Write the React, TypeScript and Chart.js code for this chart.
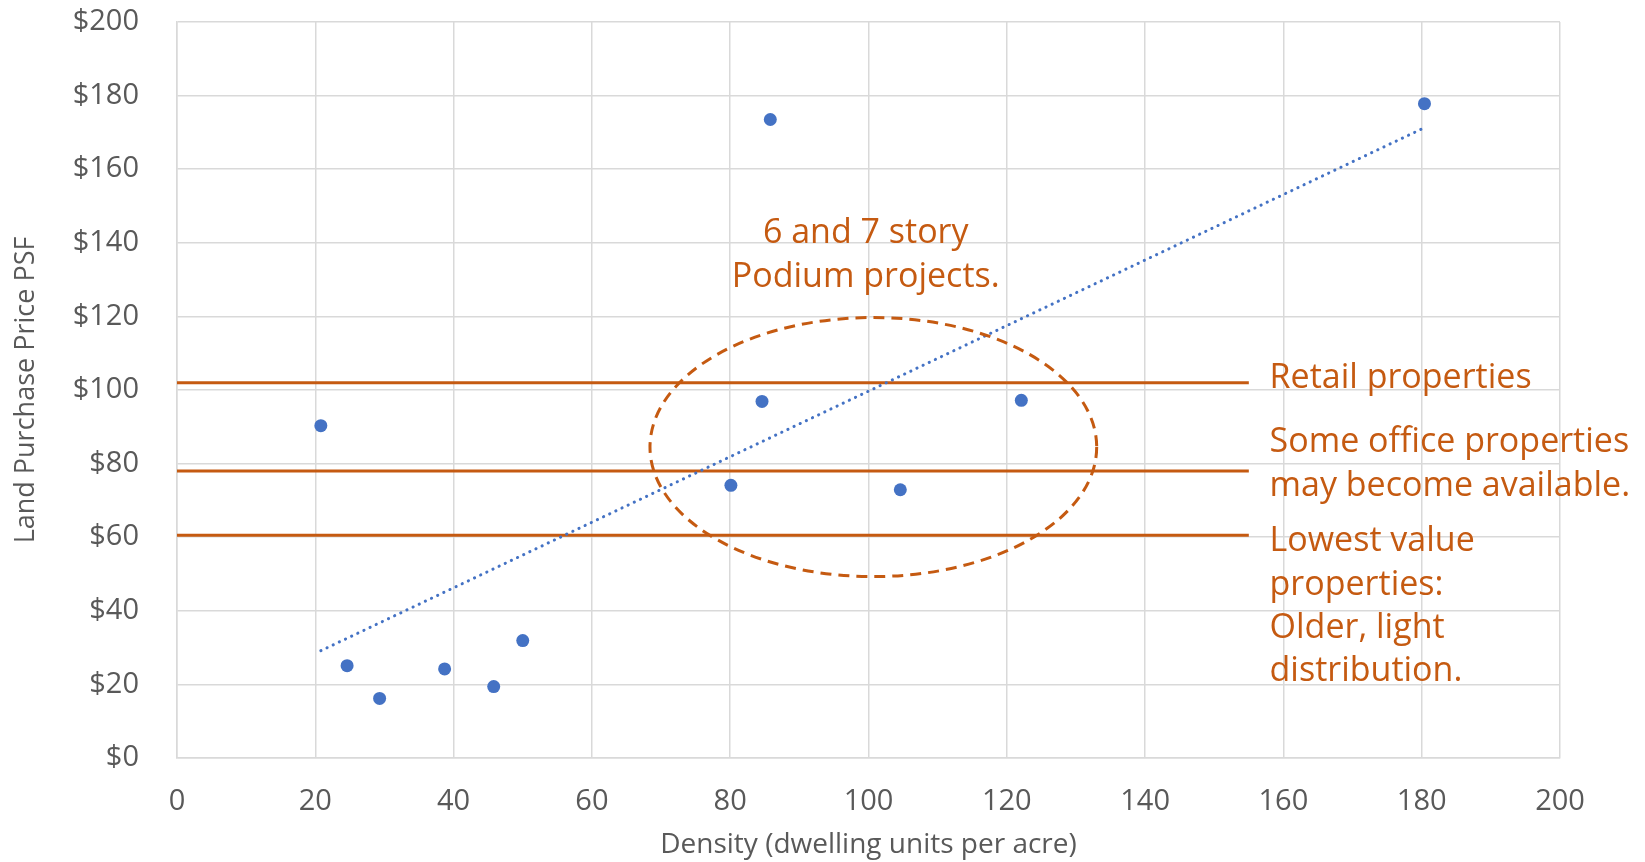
import React, { useEffect, useRef } from "react";
import { Chart, registerables } from "chart.js";

Chart.register(...registerables);

// Observed sales: density (du/acre) vs. land price per square foot
const densityValues = [20.8, 24.6, 29.3, 38.7, 45.8, 50.0, 80.1, 84.6, 85.8, 104.6, 122.1, 180.4];
const priceValues = [90.3, 25.1, 16.2, 24.2, 19.4, 31.9, 74.1, 96.9, 173.5, 72.9, 97.2, 177.8];

// Axis ticks
const xTickValues = [0, 20, 40, 60, 80, 100, 120, 140, 160, 180, 200];
const yTickValues = [0, 20, 40, 60, 80, 100, 120, 140, 160, 180, 200];

// Reference price levels by property type (drawn from x = 0 to thresholdEndX)
const thresholdPrices = [102, 78, 60.5];
const thresholdEndX = 155;

// Notes beside the reference levels (one entry per text line)
const noteLines = [
  "Retail properties",
  "Some office properties",
  "may become available.",
  "Lowest value",
  "properties:",
  "Older, light",
  "distribution.",
];
const noteLineY = [103.1, 85.8, 73.8, 59.0, 47.0, 35.3, 23.6];
const noteX = 158;

// Podium project cluster
const podiumCenter = [100.7, 84.5];
const podiumRadius = [32.3, 35.2];
const podiumLines = ["6 and 7 story", "Podium projects."];
const podiumLineY = [142.5, 130.5];
const podiumLabelX = 99.6;

const ORANGE = "#C55A11";
const BLUE = "#4472C4";
const GRID = "#D9D9D9";
const TEXT = "#595959";
const FONT = "'Open Sans', 'Noto Sans', sans-serif";

function linearFit(xs: number[], ys: number[]) {
  const n = xs.length;
  const mx = xs.reduce((a, b) => a + b, 0) / n;
  const my = ys.reduce((a, b) => a + b, 0) / n;
  let sxy = 0;
  let sxx = 0;
  for (let i = 0; i < n; i++) {
    sxy += (xs[i] - mx) * (ys[i] - my);
    sxx += (xs[i] - mx) * (xs[i] - mx);
  }
  const slope = sxy / sxx;
  return { slope, intercept: my - slope * mx };
}

const annotationPlugin = {
  id: "annotations",
  afterDatasetsDraw(chart: any) {
    const { ctx, scales } = chart;
    const xs = scales.x;
    const ys = scales.y;
    const cx = xs.getPixelForValue(podiumCenter[0]);
    const cy = ys.getPixelForValue(podiumCenter[1]);
    const rx = Math.abs(xs.getPixelForValue(podiumCenter[0] + podiumRadius[0]) - cx);
    const ry = Math.abs(ys.getPixelForValue(podiumCenter[1] + podiumRadius[1]) - cy);
    ctx.save();
    ctx.strokeStyle = ORANGE;
    ctx.lineWidth = 3;
    ctx.setLineDash([11, 7]);
    ctx.beginPath();
    ctx.ellipse(cx, cy, rx, ry, 0, 0, Math.PI * 2);
    ctx.stroke();
    ctx.restore();
  },
  afterDraw(chart: any) {
    const { ctx, scales } = chart;
    const xs = scales.x;
    const ys = scales.y;
    ctx.save();
    ctx.fillStyle = ORANGE;
    ctx.font = `34px ${FONT}`;
    ctx.textBaseline = "middle";
    ctx.textAlign = "left";
    noteLines.forEach((line, i) => {
      ctx.fillText(line, xs.getPixelForValue(noteX), ys.getPixelForValue(noteLineY[i]));
    });
    ctx.textAlign = "center";
    podiumLines.forEach((line, i) => {
      ctx.fillText(line, xs.getPixelForValue(podiumLabelX), ys.getPixelForValue(podiumLineY[i]));
    });
    ctx.restore();
  },
};

export default function App() {
  const canvasRef = useRef<HTMLCanvasElement | null>(null);

  useEffect(() => {
    if (!canvasRef.current) return;
    const fit = linearFit(densityValues, priceValues);
    const xMin = Math.min(...densityValues);
    const xMax = Math.max(...densityValues);

    const thresholdSets = thresholdPrices.map((p, i) => ({
      label: `level-${i}`,
      data: [
        { x: 0, y: p },
        { x: thresholdEndX, y: p },
      ],
      showLine: true,
      borderColor: ORANGE,
      borderWidth: 3,
      pointRadius: 0,
      order: 2,
    }));

    const chart = new Chart(canvasRef.current, {
      type: "scatter",
      data: {
        datasets: [
          {
            label: "Sales",
            data: densityValues.map((x, i) => ({ x, y: priceValues[i] })),
            backgroundColor: BLUE,
            borderColor: BLUE,
            pointRadius: 6.5,
            pointHoverRadius: 6.5,
            borderWidth: 0,
            order: 0,
          },
          {
            label: "Linear trend",
            data: [
              { x: xMin, y: fit.intercept + fit.slope * xMin },
              { x: xMax, y: fit.intercept + fit.slope * xMax },
            ],
            showLine: true,
            borderColor: BLUE,
            borderWidth: 3,
            borderDash: [0.2, 6.6],
            borderCapStyle: "round",
            pointRadius: 0,
            order: 1,
          },
          ...thresholdSets,
        ] as any,
      },
      options: {
        animation: false,
        responsive: false,
        devicePixelRatio: 1,
        layout: { padding: { top: 22, right: 85, left: 0, bottom: 0 } },
        plugins: {
          legend: { display: false },
          tooltip: { enabled: false },
        },
        scales: {
          x: {
            type: "linear",
            min: 0,
            max: 200,
            afterBuildTicks: (s: any) => {
              s.ticks = xTickValues.map((v) => ({ value: v }));
            },
            afterFit: (s: any) => {
              s.height = 104;
              s.paddingLeft = 0;
              s.paddingRight = 0;
            },
            ticks: {
              color: TEXT,
              font: { family: FONT, size: 29 },
              padding: 26,
              maxRotation: 0,
            },
            grid: { color: GRID, lineWidth: 1.5, drawTicks: false },
            border: { color: GRID, width: 1.5 },
            title: {
              display: true,
              text: "Density (dwelling units per acre)",
              color: TEXT,
              font: { family: FONT, size: 28 },
              padding: { top: 0, bottom: 0 },
            },
          },
          y: {
            type: "linear",
            min: 0,
            max: 200,
            afterBuildTicks: (s: any) => {
              s.ticks = yTickValues.map((v) => ({ value: v }));
            },
            afterFit: (s: any) => {
              s.width = 177;
              s.paddingTop = 0;
              s.paddingBottom = 0;
            },
            ticks: {
              color: TEXT,
              font: { family: FONT, size: 29 },
              padding: 38,
              callback: (v: any) => `$${v}`,
            },
            grid: { color: GRID, lineWidth: 1.5, drawTicks: false },
            border: { color: GRID, width: 1.5 },
            title: {
              display: true,
              text: "Land Purchase Price PSF",
              color: TEXT,
              font: { family: FONT, size: 27 },
              padding: { top: 10, bottom: 0 },
            },
          },
        },
      },
      plugins: [annotationPlugin],
    } as any);

    return () => chart.destroy();
  }, []);

  return (
    <div style={{ position: "fixed", left: 0, top: 0, width: 1645, height: 862, background: "#fff" }}>
      <canvas ref={canvasRef} width={1645} height={862} style={{ display: "block", width: 1645, height: 862 }} />
    </div>
  );
}
